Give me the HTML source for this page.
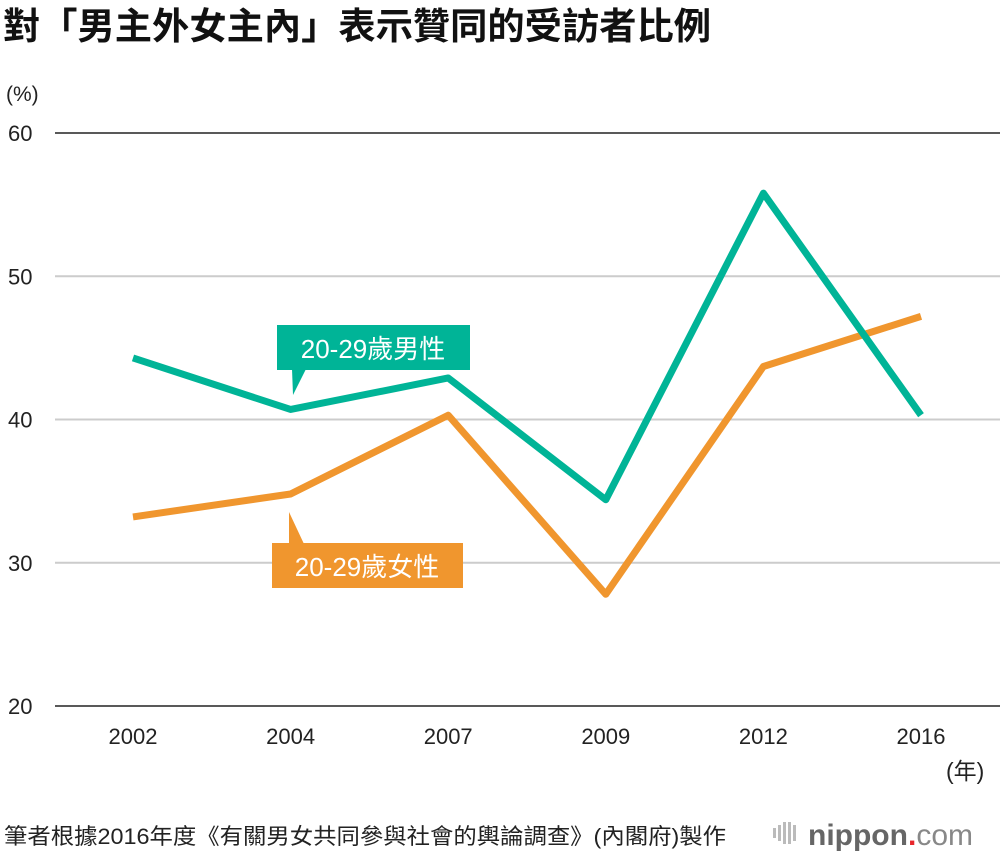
<!DOCTYPE html>
<html><head><meta charset="utf-8"><style>
body{margin:0;background:#fff;width:1000px;height:856px;overflow:hidden;font-family:"Liberation Sans","Noto Sans CJK TC",sans-serif}
</style></head><body>
<svg width="1000" height="856" xmlns="http://www.w3.org/2000/svg" font-family="'Liberation Sans','Noto Sans CJK TC',sans-serif">
<text x="3" y="39" font-size="37" font-weight="bold" fill="#111" textLength="708" lengthAdjust="spacingAndGlyphs">對「男主外女主內」表示贊同的受訪者比例</text>
<text x="6" y="101" font-size="21" fill="#222">(%)</text>
<g id="grid"></g>
<g id="lines"></g>
<g>
<rect x="277" y="325" width="193" height="45" fill="#00b497"/>
<polygon points="292,369 306,369 293,395" fill="#00b497"/>
<text x="373" y="358" font-size="26" fill="#fff" text-anchor="middle">20-29歲男性</text>
</g>
<g>
<rect x="272" y="543" width="191" height="45" fill="#f0962e"/>
<polygon points="289,512 289,544 304,544" fill="#f0962e"/>
<text x="367" y="576" font-size="26" fill="#fff" text-anchor="middle">20-29歲女性</text>
</g>
<text x="946" y="779" font-size="23" fill="#222">(年)</text>
<text x="4" y="844" font-size="22" fill="#222" textLength="722" lengthAdjust="spacingAndGlyphs">筆者根據2016年度《有關男女共同參與社會的輿論調查》(內閣府)製作</text>
<g>
<g fill="#bbb"><rect x="773" y="828" width="3" height="10"/><rect x="778" y="825" width="3" height="16"/><rect x="783" y="822" width="3" height="22"/><rect x="788" y="822" width="3" height="22"/><rect x="793" y="825" width="3" height="16"/></g>
<text x="808" y="845" font-size="30" font-weight="bold" fill="#666">nippon<tspan fill="#e8262b">.</tspan><tspan font-weight="normal" fill="#888">com</tspan></text>
</g>
</svg>
<script>
const years=["2002","2004","2007","2009","2012","2016"];
const male=[44.3,40.7,42.9,34.4,55.8,40.3];
const female=[33.2,34.8,40.3,27.8,43.7,47.2];
const yTicks=[20,30,40,50,60];
const NS="http://www.w3.org/2000/svg";
const x=i=>133+i*157.6;
const y=v=>706-(v-20)*14.325;
const grid=document.getElementById('grid');
yTicks.forEach(t=>{
 const l=document.createElementNS(NS,'line');
 l.setAttribute('x1',55);l.setAttribute('x2',1000);l.setAttribute('y1',y(t));l.setAttribute('y2',y(t));
 l.setAttribute('stroke',(t==20||t==60)?'#222':'#ccc');l.setAttribute('stroke-width',(t==20||t==60)?1.5:2);
 
 
 grid.appendChild(l);
 const tx=document.createElementNS(NS,'text');
 tx.setAttribute('x',8);tx.setAttribute('y',y(t)+8);tx.setAttribute('font-size',22);tx.setAttribute('fill','#222');
 tx.textContent=t;
 
 
 grid.appendChild(tx);
});
years.forEach((yr,i)=>{
 const tx=document.createElementNS(NS,'text');
 tx.setAttribute('x',x(i));tx.setAttribute('y',744);tx.setAttribute('font-size',22);tx.setAttribute('fill','#222');tx.setAttribute('text-anchor','middle');
 tx.textContent=yr;
 
 
 grid.appendChild(tx);
});
const lines=document.getElementById('lines');
[[female,'#f0962e','line-female'],[male,'#00b497','line-male']].forEach(([d,c,n])=>{
 const p=document.createElementNS(NS,'polyline');
 p.setAttribute('points',d.map((v,i)=>x(i)+','+y(v)).join(' '));
 p.setAttribute('fill','none');p.setAttribute('stroke',c);p.setAttribute('stroke-width',7);p.setAttribute('stroke-linejoin','round');
 
 
 lines.appendChild(p);
});
</script>
</body></html>
